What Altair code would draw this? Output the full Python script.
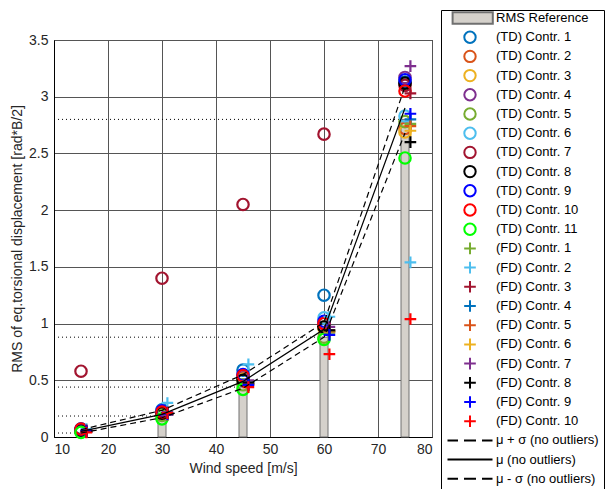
import altair as alt
import pandas as pd

# ---------------- data ----------------
speeds = [15, 30, 45, 60, 75]          # wind speed of the TD results
fd_speeds = [16, 31, 46, 61, 76]       # FD results are plotted slightly to the right
rms_ref = [0.035, 0.185, 0.44, 0.88, 2.80]

td_names = [f"(TD) Contr. {i}" for i in range(1, 12)]
td_colors = ["#0072BD", "#D95319", "#EDB120", "#7E2F8E", "#77AC30", "#4DBEEE",
             "#A2142F", "#000000", "#0000FF", "#FF0000", "#00FF00"]
td_values = [
    [0.07, 0.24, 0.59, 1.25, 3.13],
    [0.06, 0.21, 0.52, 0.97, 2.72],
    [0.06, 0.21, 0.51, 0.96, 2.69],
    [0.06, 0.22, 0.53, 1.00, 3.17],
    [0.05, 0.19, 0.46, 0.88, 2.78],
    [0.06, 0.23, 0.54, 1.05, 2.83],
    [0.58, 1.40, 2.05, 2.67, 3.10],
    [0.06, 0.21, 0.50, 0.97, 3.12],
    [0.07, 0.23, 0.55, 1.02, 3.15],
    [0.07, 0.22, 0.54, 1.00, 3.05],
    [0.04, 0.16, 0.42, 0.86, 2.46],
]

fd_names = [f"(FD) Contr. {i}" for i in range(1, 11)]
fd_colors = ["#77AC30", "#4DBEEE", "#A2142F", "#0072BD", "#D95319", "#EDB120",
             "#7E2F8E", "#000000", "#0000FF", "#FF0000"]
fd_values = [
    [0.05, 0.20, 0.47, 0.92, 2.76],
    [0.07, 0.30, 0.64, 1.06, 1.54],
    [0.05, 0.20, 0.46, 0.93, 3.03],
    [0.05, 0.21, 0.48, 0.94, 2.80],
    [0.05, 0.20, 0.47, 0.94, 2.74],
    [0.05, 0.20, 0.47, 0.93, 2.70],
    [0.06, 0.22, 0.50, 0.97, 3.27],
    [0.05, 0.21, 0.48, 0.94, 2.60],
    [0.05, 0.20, 0.46, 0.90, 2.85],
    [0.04, 0.21, 0.44, 0.73, 1.04],
]

mu_plus = [0.065, 0.235, 0.55, 1.01, 3.09]
mu = [0.05, 0.20, 0.49, 0.95, 2.90]
mu_minus = [0.035, 0.17, 0.43, 0.88, 2.68]

ref_name = "RMS Reference"
line_names = ["\u03bc + \u03c3  (no outliers)", "\u03bc (no outliers)", "\u03bc - \u03c3  (no outliers)"]

# ---------------- symbols / styles ----------------
# every symbol spans the same height (moveTo points) so the legend rows are even
RECT = "M-2.9,-0.96H3.8V0.96H-2.9Z"
CIRCLE = "M0.95,0A0.95,0.95 0 1,1 -0.95,0A0.95,0.95 0 1,1 0.95,0Z"
PLUS = "M-0.97,0H0.97M0,-0.97V0.97"
DASHED = "M0,-0.96M0,0.96M-3.75,0H-2M-1,0H1M2,0H3.75"
SOLID = "M0,-0.96M0,0.96M-3.75,0H3.75"

all_names = [ref_name] + td_names + fd_names + line_names
stroke_range = ["#707070"] + td_colors + fd_colors + ["#000000"] * 3
fill_range = ["#d5d1cb"] + ["transparent"] * (len(all_names) - 1)
shape_range = [RECT] + [CIRCLE] * len(td_names) + [PLUS] * len(fd_names) + [DASHED, SOLID, DASHED]

# ---------------- tables ----------------
ref_df = pd.DataFrame({"speed": speeds, "ref": rms_ref, "x0": [10] * len(speeds)})

rows = []
for name, vals in zip(td_names, td_values):
    for s, v in zip(speeds, vals):
        rows.append({"series": name, "speed": s, "value": v})
for name, vals in zip(fd_names, fd_values):
    for s, v in zip(fd_speeds, vals):
        rows.append({"series": name, "speed": s, "value": v})
pts_df = pd.DataFrame(rows)
pts_df["order"] = range(len(pts_df))

line_rows = []
for kind, vals in zip(["plus", "mean", "minus"], [mu_plus, mu, mu_minus]):
    for s, v in zip(speeds, vals):
        line_rows.append({"kind": kind, "speed": s, "value": v})
line_df = pd.DataFrame(line_rows)

# ---------------- scales / axes ----------------
xscale = alt.Scale(domain=[10, 80], nice=False, zero=False, padding=0)
yscale = alt.Scale(domain=[0, 3.5], nice=False, padding=0)
xaxis = alt.Axis(values=list(range(10, 81, 10)), format="d", title="Wind speed [m/s]")
yaxis = alt.Axis(values=[0, 0.5, 1, 1.5, 2, 2.5, 3, 3.5], format="~g",
                 title="RMS of eq.torsional displacement [rad*B/2]")


def X(field):
    return alt.X(field, type="quantitative", scale=xscale, axis=xaxis)


def Y(field):
    return alt.Y(field, type="quantitative", scale=yscale, axis=yaxis)


dotted = alt.Chart(ref_df).mark_rule(color="black", strokeWidth=1, strokeDash=[1, 3]).encode(
    x=X("x0"), x2="speed", y=Y("ref"))

bars = alt.Chart(ref_df).mark_bar(size=8, color="#d5d1cb", stroke="#707070", strokeWidth=1).encode(
    x=X("speed"), y=Y("ref"))

points = alt.Chart(pts_df).mark_point(size=144, strokeWidth=2.2, opacity=1).encode(
    x=X("speed"),
    y=Y("value"),
    shape=alt.Shape("series:N", scale=alt.Scale(domain=all_names, range=shape_range), title=None),
    stroke=alt.Stroke("series:N", scale=alt.Scale(domain=all_names, range=stroke_range), title=None),
    fill=alt.Fill("series:N", scale=alt.Scale(domain=all_names, range=fill_range), title=None),
    order=alt.Order("order:Q"),
)

dashed = alt.Chart(line_df).transform_filter(alt.datum.kind != "mean").mark_line(
    color="black", strokeWidth=1.2, strokeDash=[6, 4]).encode(
    x=X("speed"), y=Y("value"), detail="kind:N")

solid = alt.Chart(line_df).transform_filter(alt.datum.kind == "mean").mark_line(
    color="black", strokeWidth=1.2).encode(x=X("speed"), y=Y("value"))

chart = alt.layer(dotted, bars, points, dashed, solid).properties(
    width=378, height=397,
    padding={"left": 2, "top": 1, "right": 0, "bottom": 0},
).configure_view(
    stroke="black", strokeWidth=1
).configure_axis(
    grid=True, gridColor="#555555", gridWidth=1, gridOpacity=1,
    domainColor="black", ticks=False,
    labelFont="Liberation Sans", labelFontSize=14, labelColor="#262626",
    titleFont="Liberation Sans", titleFontSize=14, titleColor="#262626", titleFontWeight="normal",
).configure_axisX(
    labelPadding=5, titlePadding=5
).configure_axisY(
    labelPadding=6, titlePadding=4.5
).configure_legend(
    orient="none", legendX=387, legendY=-30,
    strokeColor="black", fillColor="white", padding=1,
    rowPadding=-0.8, labelFont="Liberation Sans", labelFontSize=13, labelColor="black",
    symbolSize=144, symbolStrokeWidth=2, symbolOffset=21, labelOffset=19, labelLimit=0,
    symbolLimit=0,
)

chart.save("out.html", embed_options={"renderer": "svg", "actions": False})
